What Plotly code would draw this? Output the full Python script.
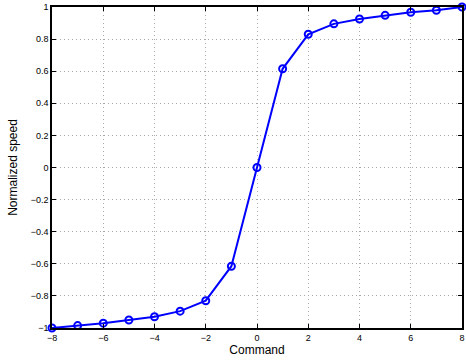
import plotly.graph_objects as go

command = [-8, -7, -6, -5, -4, -3, -2, -1, 0, 1, 2, 3, 4, 5, 6, 7, 8]
speed = [-1.0, -0.985, -0.97, -0.95, -0.93, -0.895, -0.83, -0.615, 0.0,
         0.615, 0.83, 0.895, 0.925, 0.948, 0.967, 0.98, 1.0]
x_ticks = [-8, -6, -4, -2, 0, 2, 4, 6, 8]
y_ticks = [-1, -0.8, -0.6, -0.4, -0.2, 0, 0.2, 0.4, 0.6, 0.8, 1]

font_fam = "Liberation Sans, Arial"

fig = go.Figure()
fig.add_trace(go.Scatter(
    x=command, y=speed, mode="lines+markers",
    line=dict(color="#0000ff", width=2),
    marker=dict(symbol="circle-open", size=7, color="#0000ff", line=dict(width=2)),
    showlegend=False, cliponaxis=False,
))

axis_common = dict(
    showline=True, linecolor="black", linewidth=1.5, mirror="ticks",
    ticks="inside", ticklen=4, tickcolor="black",
    showgrid=True, gridcolor="#a8a8a8", griddash="1px,3px", gridwidth=1,
    zeroline=False, automargin=False,
    tickfont=dict(family=font_fam, size=9, color="black"),
)

fig.update_xaxes(range=[-8, 8], tickvals=x_ticks,
                 title=dict(text="Command", font=dict(family=font_fam, size=12, color="black"), standoff=4),
                 **axis_common)
fig.update_yaxes(range=[-1, 1], tickvals=y_ticks,
                 ticktext=[("%g" % v).replace("-", "\u2212") for v in y_ticks],
                 title=dict(text="Normalized speed", font=dict(family=font_fam, size=12, color="black"), standoff=10),
                 **axis_common)

fig.update_layout(
    width=466, height=362,
    margin=dict(l=52, r=4, t=7, b=34, autoexpand=False),
    paper_bgcolor="white", plot_bgcolor="white",
)
fig.write_html("out.html", config={"displayModeBar": False},
               post_script="document.body.style.margin='0';")
